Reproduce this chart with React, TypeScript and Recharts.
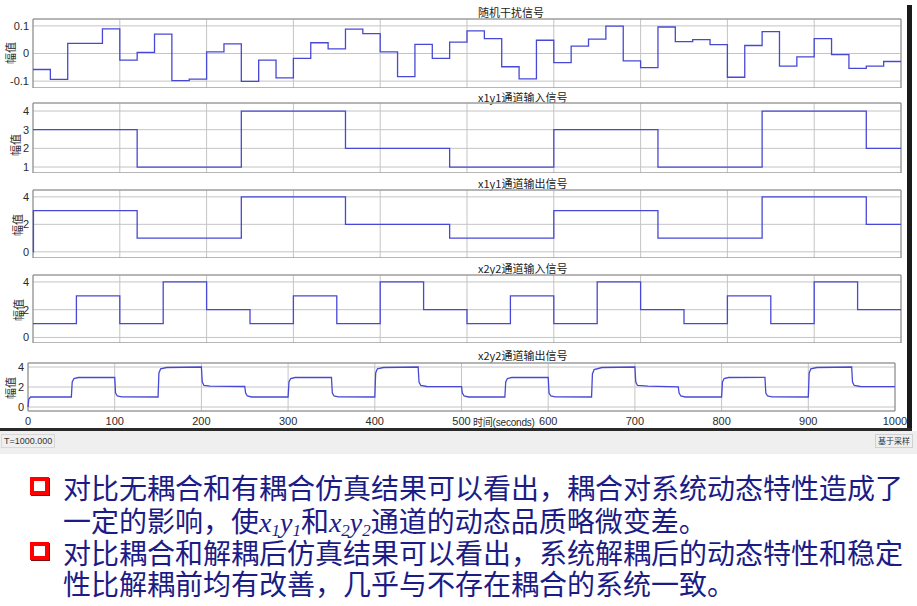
import { LineChart, Line, XAxis, YAxis, CartesianGrid, ReferenceArea } from 'recharts'

// random disturbance, one level per 20 s
const noiseStep = 20
const noiseVals = [
  -0.058, -0.094, 0.037, 0.037, 0.089, -0.024, 0.004, 0.07, -0.098, -0.093,
  0.006, 0.035, -0.101, -0.024, -0.088, -0.018, 0.039, 0.017, 0.088, 0.072,
  0.006, -0.084, 0.033, -0.018, 0.041, 0.082, 0.054, -0.048, -0.092, 0.048,
  -0.033, 0.027, 0.052, 0.099, -0.027, -0.051, 0.096, 0.043, 0.05, 0.032,
  -0.086, 0.029, 0.079, -0.046, -0.012, 0.054, -0.004, -0.054, -0.046, -0.029,
]

// x1y1 channel, level changes every 120 s
const x1y1Times = [0, 120, 240, 360, 480, 600, 720, 840, 960]
const x1y1In = [3, 1, 4, 2, 1, 3, 1, 4, 2]
const x1y1Out = [3, 1, 4, 2, 1, 3, 1, 4, 2]

// x2y2 channel input, level changes every 50 s
const x2y2Step = 50
const x2y2In = [1, 3, 1, 4, 2, 1, 3, 1, 4, 2, 1, 3, 1, 4, 2, 1, 3, 1, 4, 2]

// x2y2 output [t, value]
const x2y2Out: [number, number][] = [
  [0, 0], [1, 0.8], [3, 1], [50, 1],
  [51, 2.5], [53, 2.85], [58, 2.95], [100, 2.96],
  [101, 1.4], [103, 1.1], [108, 1.02], [150, 1.0],
  [151, 3.4], [153, 3.82], [160, 3.95], [200, 4.0],
  [201, 2.5], [203, 2.15], [210, 2.08], [250, 2.05],
  [251, 1.4], [253, 1.1], [258, 1.0], [300, 1.0],
  [301, 2.5], [303, 2.85], [308, 2.95], [350, 2.96],
  [351, 1.4], [353, 1.1], [358, 1.02], [400, 1.0],
  [401, 3.4], [403, 3.82], [410, 3.95], [450, 4.0],
  [451, 2.5], [453, 2.15], [460, 2.05], [500, 2.03],
  [501, 1.4], [503, 1.1], [508, 1.0], [550, 1.0],
  [551, 2.5], [553, 2.85], [558, 2.95], [600, 2.96],
  [601, 1.4], [603, 1.1], [608, 1.02], [650, 1.0],
  [651, 3.3], [653, 3.75], [662, 3.95], [700, 4.0],
  [701, 2.5], [703, 2.15], [715, 2.08], [750, 2.02],
  [751, 1.4], [753, 1.1], [758, 1.0], [800, 1.0],
  [801, 2.5], [803, 2.85], [808, 2.95], [850, 2.96],
  [851, 1.4], [853, 1.1], [858, 1.02], [900, 1.0],
  [901, 3.4], [903, 3.82], [910, 3.95], [950, 4.0],
  [951, 2.5], [953, 2.15], [960, 2.05], [1000, 2.03],
]

const xTicks = [0, 100, 200, 300, 400, 500, 600, 700, 800, 900, 1000]
const tEnd = 1000

const toSteps = (times: number[], vals: number[]) => {
  const rows = times.map((t, i) => ({ t, v: vals[i] }))
  rows.push({ t: tEnd, v: vals[vals.length - 1] })
  return rows
}

const noiseData = toSteps(noiseVals.map((_, i) => i * noiseStep), noiseVals)
const x1y1InData = toSteps(x1y1Times, x1y1In)
const x1y1OutData = [{ t: 0, v: 0 }, ...toSteps(x1y1Times.map((t) => (t === 0 ? 0.5 : t)), x1y1Out)]
const x2y2InData = toSteps(x2y2In.map((_, i) => i * x2y2Step), x2y2In)
const x2y2OutData = x2y2Out.map(([t, v]) => ({ t, v }))

const LINE = '#4848d6'
const TICK = { fontSize: 11, fill: '#2a2a2a', fontFamily: 'Liberation Sans, Arial, sans-serif' }
const CJK = '"Noto Sans CJK SC", sans-serif'
const PAD = 8 // room above the plot so the top tick label isn't clipped

type PanelProps = {
  top: number
  height: number
  data: { t: number; v: number }[]
  domain: [number, number]
  ticks: number[]
  fmt?: (v: number) => string
  step?: boolean
  left?: number
  right?: number
  showX?: boolean
}

function Panel({ top, height, data, domain, ticks, fmt, step = true, left = 33, right = 16, showX = false }: PanelProps) {
  const xh = showX ? 20 : 0
  return (
    <div style={{ position: 'absolute', left: 0, top: top - PAD }}>
      <LineChart width={917} height={height + xh + PAD} data={data} margin={{ top: PAD, right, bottom: 0, left: 0 }}>
        <CartesianGrid stroke="#c4c4c4" strokeWidth={1} />
        <XAxis
          dataKey="t"
          type="number"
          domain={[0, tEnd]}
          ticks={xTicks}
          interval={0}
          hide={!showX}
          height={xh}
          axisLine={false}
          tickLine={false}
          tickSize={0}
          tickMargin={6}
          tick={TICK}
        />
        <YAxis
          type="number"
          domain={domain}
          ticks={ticks}
          interval={0}
          width={left}
          axisLine={false}
          tickLine={false}
          tickSize={0}
          tickMargin={4}
          tick={TICK}
          tickFormatter={fmt}
          allowDataOverflow
        />
        <ReferenceArea x1={0} x2={tEnd} y1={domain[0]} y2={domain[1]} fill="none" stroke="#8a8a8a" strokeWidth={1} />
        <Line
          type={step ? 'stepAfter' : 'linear'}
          dataKey="v"
          stroke={LINE}
          strokeWidth={1.3}
          dot={false}
          isAnimationActive={false}
        />
      </LineChart>
    </div>
  )
}

function Title({ text, y }: { text: string; y: number }) {
  return (
    <div style={{ position: 'absolute', left: 478, top: y - 7, fontFamily: CJK, fontSize: 11, lineHeight: '14px', color: '#222', whiteSpace: 'nowrap' }}>
      {text}
    </div>
  )
}

function YLabel({ x, y }: { x: number; y: number }) {
  return (
    <div
      style={{
        position: 'absolute',
        left: x - 12,
        top: y - 7,
        width: 24,
        textAlign: 'center',
        transform: 'rotate(-90deg)',
        fontFamily: CJK,
        fontSize: 11,
        color: '#222',
        lineHeight: '14px',
      }}
    >
      幅值
    </div>
  )
}

function Bullet({ y }: { y: number }) {
  return (
    <div
      style={{
        position: 'absolute',
        left: 30,
        top: y,
        width: 11,
        height: 10,
        border: '4px solid #ff0000',
        background: '#fff',
        boxShadow: '1px 1px 0 #7a1010',
      }}
    />
  )
}

const textStyle: React.CSSProperties = {
  position: 'absolute',
  left: 63,
  height: 30,
  fontFamily: CJK,
  fontSize: 28,
  lineHeight: '30px',
  color: '#1c1c86',
  whiteSpace: 'nowrap',
}

const mathStyle: React.CSSProperties = {
  fontFamily: '"Liberation Serif", "Times New Roman", serif',
  fontStyle: 'italic',
  fontSize: 28,
  lineHeight: '26px',
}
const subStyle: React.CSSProperties = { fontSize: 17, lineHeight: '14px', verticalAlign: '-4px' }

export default function App() {
  return (
    <div style={{ position: 'absolute', left: 0, top: 0, width: 917, height: 606, background: '#fff', overflow: 'hidden' }}>
      <Title text="随机干扰信号" y={12} />
      <Panel top={19} height={69} data={noiseData} domain={[-0.125, 0.125]} ticks={[-0.1, 0, 0.1]} fmt={(v) => String(v)} />
      <YLabel x={10} y={53} />

      <Title text="x1y1通道输入信号" y={97} />
      <Panel top={103} height={70} data={x1y1InData} domain={[0.68, 4.43]} ticks={[1, 2, 3, 4]} />
      <YLabel x={15} y={145} />

      <Title text="x1y1通道输出信号" y={183} />
      <Panel top={190} height={68} data={x1y1OutData} domain={[-0.45, 4.5]} ticks={[0, 2, 4]} />
      <YLabel x={17} y={225} />

      <Title text="x2y2通道输入信号" y={268} />
      <Panel top={275} height={68} data={x2y2InData} domain={[-0.4, 4.5]} ticks={[0, 2, 4]} />
      <YLabel x={18} y={310} />

      <Title text="x2y2通道输出信号" y={355} />
      <Panel top={363} height={48} data={x2y2OutData} domain={[-0.4, 4.4]} ticks={[0, 2, 4]} step={false} left={28} right={22} showX />
      <YLabel x={10} y={388} />
      <div style={{ position: 'absolute', left: 473, top: 415, fontFamily: 'Liberation Sans, sans-serif', fontSize: 10, lineHeight: '13px', letterSpacing: -0.2, color: '#2a2a2a', whiteSpace: 'nowrap' }}>
        <span style={{ fontFamily: CJK, lineHeight: '13px' }}>时间</span>(seconds)
      </div>

      {/* window frame bits */}
      <div style={{ position: 'absolute', left: 907, top: 5, width: 5, height: 425, background: '#1a1a1a' }} />
      <div style={{ position: 'absolute', left: 0, top: 428, width: 912, height: 3, background: '#2a2a2a' }} />
      <div style={{ position: 'absolute', left: 0, top: 431, width: 917, height: 23, background: '#efefef' }} />
      <div style={{ position: 'absolute', left: 1, top: 434, padding: '0 2px', border: '1px solid #d8d8d8', fontFamily: 'Liberation Sans, sans-serif', fontSize: 9, lineHeight: '12px', color: '#333' }}>
        T=1000.000
      </div>
      <div style={{ position: 'absolute', left: 875, top: 434, padding: '0 2px', border: '1px solid #d0d0d0', fontFamily: CJK, fontSize: 8, lineHeight: '12px', color: '#333' }}>
        基于采样
      </div>

      <Bullet y={477} />
      <div style={{ ...textStyle, top: 472 }}>对比无耦合和有耦合仿真结果可以看出，耦合对系统动态特性造成了</div>
      <div style={{ ...textStyle, top: 505 }}>
        一定的影响，使
        <span style={mathStyle}>x<span style={subStyle}>1</span>y<span style={subStyle}>1</span></span>
        和
        <span style={mathStyle}>x<span style={subStyle}>2</span>y<span style={subStyle}>2</span></span>
        通道的动态品质略微变差。
      </div>
      <Bullet y={542} />
      <div style={{ ...textStyle, top: 537 }}>对比耦合和解耦后仿真结果可以看出，系统解耦后的动态特性和稳定</div>
      <div style={{ ...textStyle, top: 568 }}>性比解耦前均有改善，几乎与不存在耦合的系统一致。</div>
    </div>
  )
}
